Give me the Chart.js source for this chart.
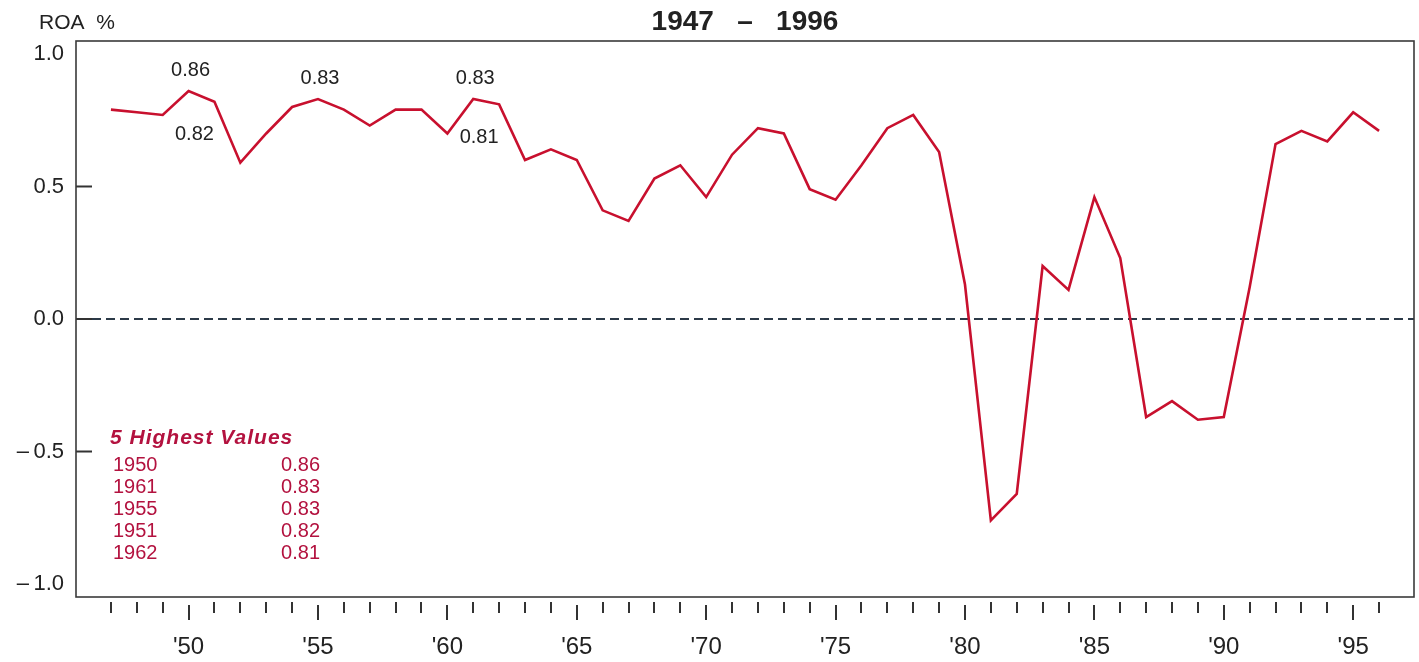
<!DOCTYPE html>
<html><head><meta charset="utf-8">
<script src="https://cdn.jsdelivr.net/npm/chart.js@4.4.1/dist/chart.umd.min.js"></script>
<style>html,body{margin:0;padding:0;background:#fff;} #wrap{width:1419px;height:662px;position:relative;}</style>
</head><body><div id="wrap"><canvas id="c"></canvas></div>
<script>
// ---- data ----
const years = [1947,1948,1949,1950,1951,1952,1953,1954,1955,1956,1957,1958,1959,1960,1961,1962,1963,1964,1965,1966,1967,1968,1969,1970,1971,1972,1973,1974,1975,1976,1977,1978,1979,1980,1981,1982,1983,1984,1985,1986,1987,1988,1989,1990,1991,1992,1993,1994,1995,1996];
const roa = [0.79,0.78,0.77,0.86,0.82,0.59,0.70,0.80,0.83,0.79,0.73,0.79,0.79,0.70,0.83,0.81,0.60,0.64,0.60,0.41,0.37,0.53,0.58,0.46,0.62,0.72,0.70,0.49,0.45,0.58,0.72,0.77,0.63,0.13,-0.76,-0.66,0.20,0.11,0.46,0.23,-0.37,-0.31,-0.38,-0.37,0.12,0.66,0.71,0.67,0.78,0.71];
const xTickYears = [1950,1955,1960,1965,1970,1975,1980,1985,1990,1995];
const xTickLabels = ["'50","'55","'60","'65","'70","'75","'80","'85","'90","'95"];
const yTickValues = [1,0.5,0,-0.5,-1];
const yTickLabels = ["1.0","0.5","0.0","\u2013\u20090.5","\u2013\u20091.0"];
const innerTickValues = [0.5,0,-0.5];
const topYears = [1950,1961,1955,1951,1962];
const topValues = [0.86,0.83,0.83,0.82,0.81];
const annotYears = [1950,1951,1955,1961,1962];
const annotSide = ['above','below','above','above','below'];
const titleText = '1947   \u2013   1996';
const yAxisTitle = 'ROA  %';
const legendTitle = '5 Highest Values';

const FONT = "'Liberation Sans', Arial, Helvetica, sans-serif";
const RED = '#c8102e';
const LEG = '#b3123f';

const decor = {
  id: 'decor',
  beforeDatasetsDraw(chart) {
    const {ctx, chartArea: a, scales: {x, y}} = chart;
    ctx.save();
    const y0 = y.getPixelForValue(0);
    ctx.strokeStyle = '#2c3a48'; ctx.lineWidth = 2; ctx.setLineDash([9, 5]);
    ctx.beginPath(); ctx.moveTo(a.left + 16, y0); ctx.lineTo(a.right, y0); ctx.stroke();
    ctx.setLineDash([]);
    ctx.strokeStyle = '#333'; ctx.lineWidth = 2;
    innerTickValues.forEach(v => {
      const py = y.getPixelForValue(v);
      ctx.beginPath(); ctx.moveTo(a.left, py); ctx.lineTo(a.left + 16, py); ctx.stroke();
    });
    years.forEach(yr => {
      const px = Math.round(x.getPixelForValue(yr));
      const major = yr % 5 === 0;
      ctx.beginPath();
      ctx.moveTo(px, a.bottom + (major ? 8 : 5));
      ctx.lineTo(px, a.bottom + (major ? 23 : 16));
      ctx.stroke();
    });
    ctx.restore();
  },
  afterDraw(chart) {
    const {ctx, chartArea: a, scales: {x, y}} = chart;
    ctx.save();
    // frame
    ctx.strokeStyle = '#3a3a3a'; ctx.lineWidth = 1.6;
    ctx.strokeRect(a.left, a.top, a.right - a.left, a.bottom - a.top);
    // y axis title
    ctx.fillStyle = '#222'; ctx.font = '21px ' + FONT;
    ctx.textAlign = 'left'; ctx.textBaseline = 'middle';
    ctx.fillText(yAxisTitle, 39, 23);
    // annotations
    ctx.font = '20px ' + FONT;
    ctx.textAlign = 'center';
    annotYears.forEach((yr, i) => {
      const v = roa[years.indexOf(yr)];
      const px = x.getPixelForValue(yr), py = y.getPixelForValue(v);
      const above = annotSide[i] === 'above';
      ctx.fillText(v.toFixed(2), px + (above ? 2 : -20), py + (above ? -21 : 33));
    });
    // legend box
    ctx.fillStyle = LEG;
    ctx.textAlign = 'left';
    ctx.font = 'italic bold 21px ' + FONT;
    ctx.letterSpacing = '1px';
    ctx.fillText(legendTitle, a.left + 34, 438);
    ctx.letterSpacing = '0px';
    ctx.font = '20px ' + FONT;
    topYears.forEach((yr, i) => {
      const ry = 465 + i * 22;
      ctx.textAlign = 'left'; ctx.fillText(String(yr), a.left + 37, ry);
      ctx.textAlign = 'right'; ctx.fillText(topValues[i].toFixed(2), a.left + 244, ry);
    });
    ctx.restore();
  }
};

new Chart(document.getElementById('c'), {
  type: 'line',
  data: {
    datasets: [{
      data: years.map((yr, i) => ({x: yr, y: roa[i]})),
      borderColor: RED, borderWidth: 2.6, pointRadius: 0, tension: 0, fill: false
    }]
  },
  options: {
    responsive: true, maintainAspectRatio: false, animation: false, devicePixelRatio: 1,
    layout: {padding: {left: 0, right: 5, top: 0, bottom: 0}},
    plugins: {
      legend: {display: false}, tooltip: {enabled: false},
      title: {display: true, text: titleText, fullSize: false, color: '#222',
        font: {family: FONT, size: 28, weight: 'bold'}, padding: {top: 5, bottom: 2.4}}
    },
    scales: {
      x: {
        type: 'linear', min: 1945.65, max: 1997.35,
        grid: {display: false, drawTicks: false}, border: {display: false},
        afterBuildTicks: s => { s.ticks = xTickYears.map(v => ({value: v})); },
        afterFit: s => { s.height = 65; },
        ticks: {autoSkip: false, maxRotation: 0, padding: 36, color: '#222',
          font: {family: FONT, size: 24},
          callback: (v) => { const i = xTickYears.indexOf(v); return i >= 0 ? xTickLabels[i] : ''; }}
      },
      y: {
        type: 'linear', min: -1.049, max: 1.049,
        grid: {display: false, drawTicks: false}, border: {display: false},
        afterBuildTicks: s => { s.ticks = yTickValues.map(v => ({value: v})); },
        afterFit: s => { s.width = 76; },
        ticks: {padding: 12, color: '#222', font: {family: FONT, size: 22},
          callback: (v) => { const i = yTickValues.indexOf(v); return i >= 0 ? yTickLabels[i] : ''; }}
      }
    }
  },
  plugins: [decor]
});
</script>
</body></html>
